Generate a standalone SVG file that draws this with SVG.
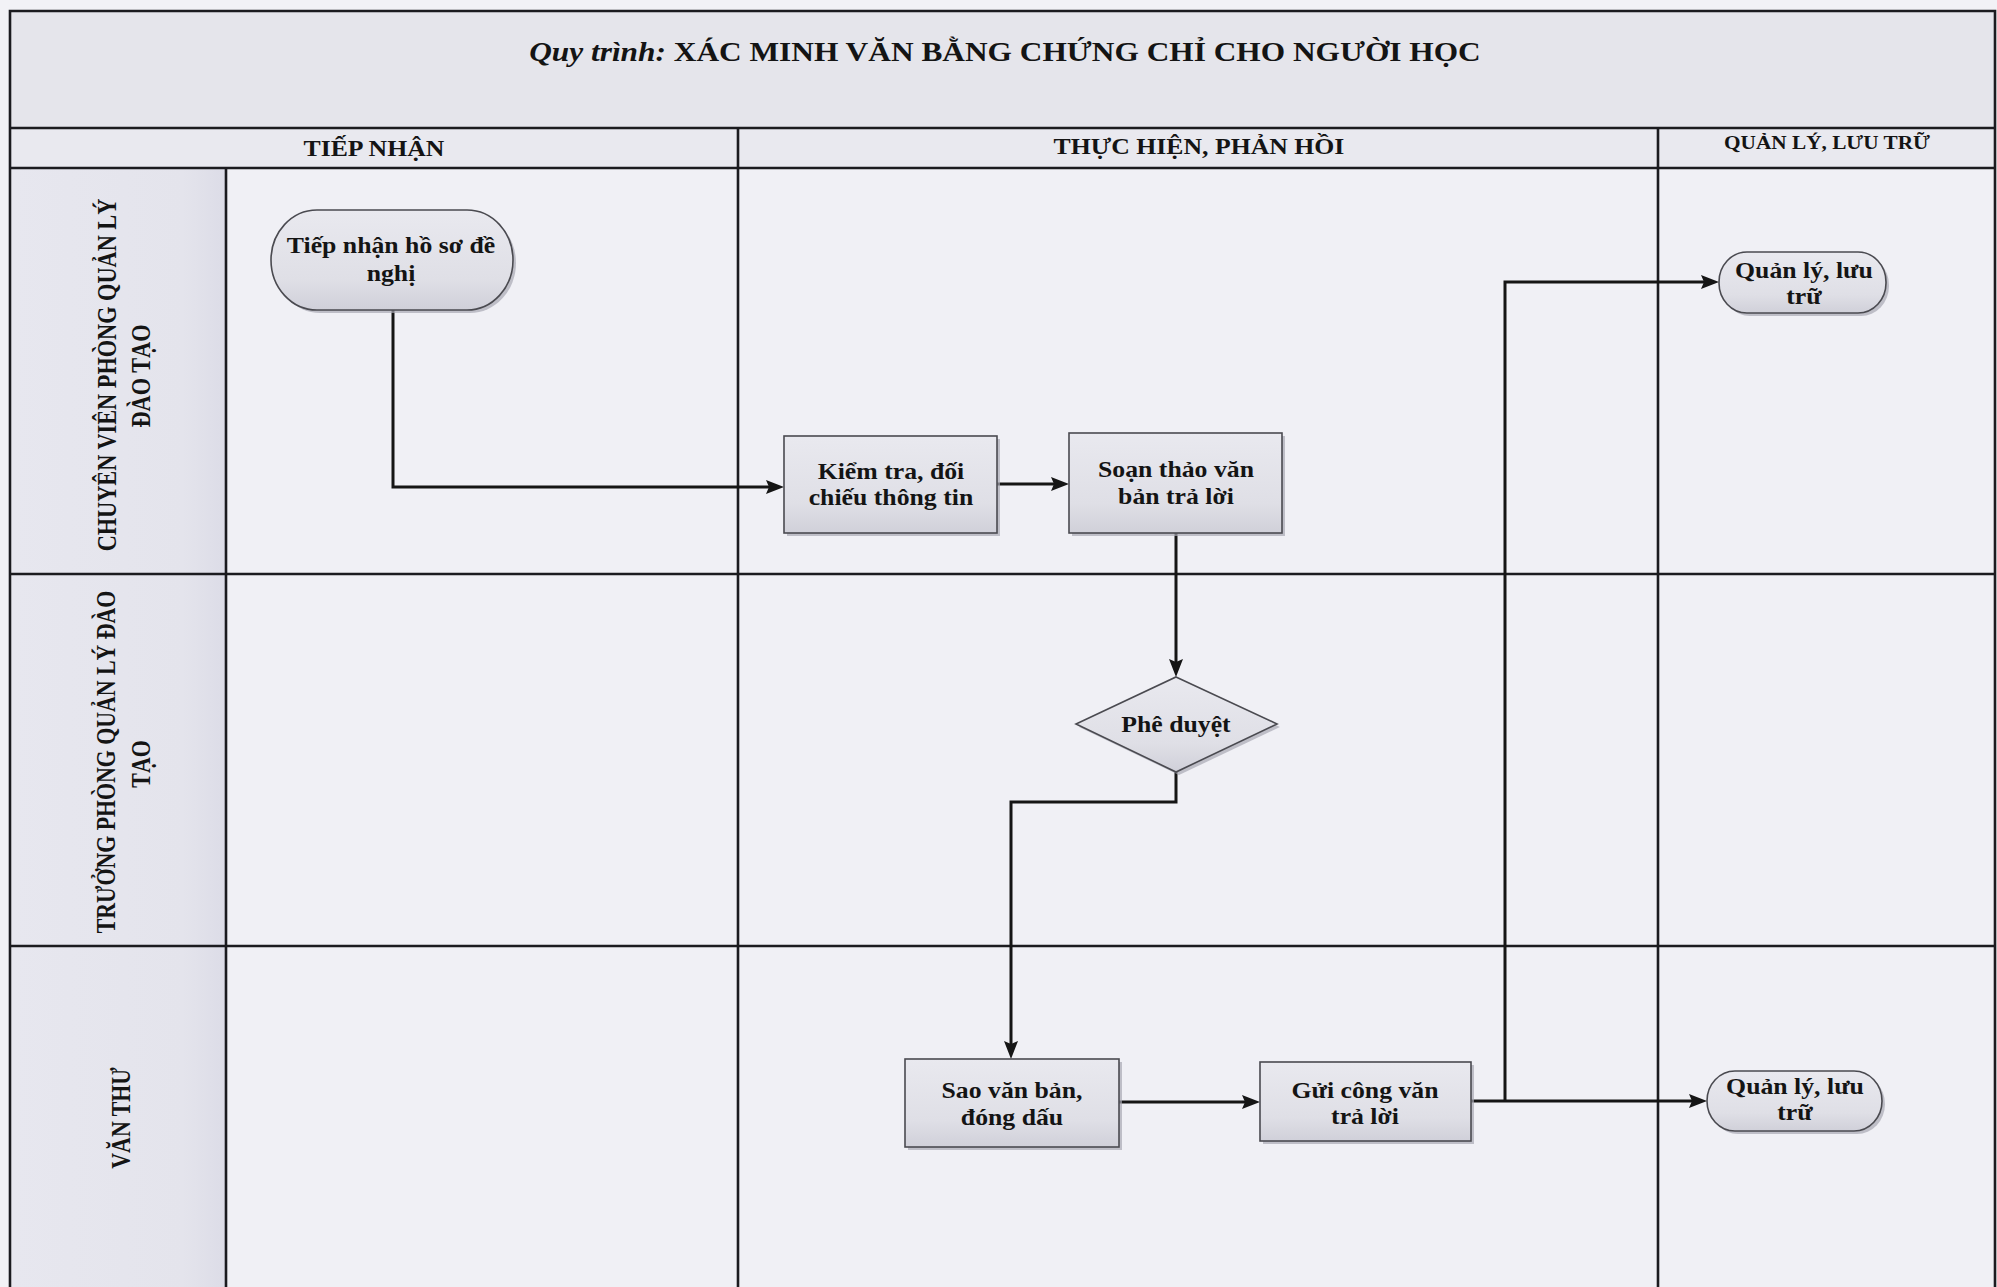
<svg xmlns="http://www.w3.org/2000/svg" width="1997" height="1287" viewBox="0 0 1997 1287">
  <style>
    .frame{fill:none;stroke:#1b1b1f;stroke-width:2.6}
    .node{stroke:#4a4a50;stroke-width:1.6;fill:url(#nodeFill)}
    .shadow{fill:#a8a8b4;opacity:0.7}
    .conn{fill:none;stroke:#151515;stroke-width:3;stroke-linejoin:miter}
    .t{font-family:"Liberation Serif","Times New Roman",serif;font-weight:bold;fill:#141414;text-anchor:middle}
    .node-t{font-size:23px}
    .hdr{font-size:23px}
    .hdr-s{font-size:19px}
    .lane-t{font-size:23px}
    .title{font-size:28px}
  </style>
  <defs>
    <linearGradient id="nodeFill" x1="0" y1="0" x2="0" y2="1">
      <stop offset="0" stop-color="#e9e9ef"/>
      <stop offset="0.7" stop-color="#dfdfe6"/>
      <stop offset="1" stop-color="#d0d0d9"/>
    </linearGradient>
    <linearGradient id="laneFill" x1="0" y1="0" x2="1" y2="0">
      <stop offset="0" stop-color="#e7e7ef"/>
      <stop offset="0.8" stop-color="#e4e4ec"/>
      <stop offset="1" stop-color="#dcdce7"/>
    </linearGradient>
    <marker id="arrow" markerUnits="userSpaceOnUse" markerWidth="20" markerHeight="14" refX="8" refY="7" orient="auto">
      <path d="M0,0 L18,7 L0,14 L3,7 z" fill="#151515"/>
    </marker>
  </defs>

  <!-- page background -->
  <rect x="0" y="0" width="1997" height="1287" fill="#f2f2f6"/>

  <g id="frame">
    <rect x="10" y="11" width="1985" height="116" fill="#e5e5eb"/>
    <rect x="10" y="127" width="1985" height="40" fill="#e9e9ef"/>
    <rect x="10" y="167" width="1985" height="1125" fill="#f0f0f5"/>
    <rect x="12" y="167" width="214" height="1125" fill="url(#laneFill)"/>

    <path class="frame" d="M10,1290 L10,11 L1995,11 L1995,1290"/>
    <line class="frame" x1="10" y1="128" x2="1995" y2="128"/>
    <line class="frame" x1="10" y1="168" x2="1995" y2="168"/>
    <line class="frame" x1="738" y1="128" x2="738" y2="1290"/>
    <line class="frame" x1="1658" y1="128" x2="1658" y2="1290"/>
    <line class="frame" x1="226" y1="168" x2="226" y2="1290"/>
    <line class="frame" x1="10" y1="574" x2="1995" y2="574"/>
    <line class="frame" x1="10" y1="946" x2="1995" y2="946"/>
  </g>

  <g id="title">
    <text class="t title" x="897.3" y="61" transform="scale(1.12,1)"><tspan font-style="italic">Quy trình:</tspan> XÁC MINH VĂN BẰNG CHỨNG CHỈ CHO NGƯỜI HỌC</text>
  </g>

  <g id="column-headers">
    <text class="t hdr" x="333.9" y="156" transform="scale(1.12,1)">TIẾP NHẬN</text>
    <text class="t hdr" x="1070.5" y="154" transform="scale(1.12,1)">THỰC HIỆN, PHẢN HỒI</text>
    <text class="t hdr-s" x="1631.3" y="149" transform="scale(1.12,1)">QUẢN LÝ, LƯU TRỮ</text>
  </g>

  <g id="lane-labels">
    <g id="lane-1">
      <text class="t lane-t" transform="translate(116,375) rotate(-90) scale(0.97,1.15)">CHUYÊN VIÊN PHÒNG QUẢN LÝ</text>
      <text class="t lane-t" transform="translate(150,376) rotate(-90) scale(0.97,1.15)">ĐÀO TẠO</text>
    </g>
    <g id="lane-2">
      <text class="t lane-t" transform="translate(115,762) rotate(-90) scale(0.95,1.15)">TRƯỞNG PHÒNG QUẢN LÝ ĐÀO</text>
      <text class="t lane-t" transform="translate(150,764) rotate(-90) scale(0.95,1.15)">TẠO</text>
    </g>
    <g id="lane-3">
      <text class="t lane-t" transform="translate(130,1118) rotate(-90) scale(0.95,1.15)">VĂN THƯ</text>
    </g>
  </g>

  <g id="connectors">
    <path class="conn" marker-end="url(#arrow)" d="M393,310 L393,487 L774,487"/>
    <path class="conn" marker-end="url(#arrow)" d="M997,484 L1059,484"/>
    <path class="conn" marker-end="url(#arrow)" d="M1176,533 L1176,667"/>
    <path class="conn" marker-end="url(#arrow)" d="M1176,772 L1176,802 L1011,802 L1011,1049"/>
    <path class="conn" marker-end="url(#arrow)" d="M1119,1102 L1250,1102"/>
    <path class="conn" marker-end="url(#arrow)" d="M1471,1101 L1697,1101"/>
    <path class="conn" marker-end="url(#arrow)" d="M1505,1101 L1505,282 L1709,282"/>
  </g>

  <g id="node-tiep-nhan">
    <rect class="shadow" x="274" y="213" width="242" height="100" rx="46" ry="50"/>
    <rect class="node" x="271" y="210" width="242" height="100" rx="46" ry="50"/>
    <text class="t node-t" transform="scale(1.12,1)"><tspan x="349.1" y="253">Tiếp nhận hồ sơ đề</tspan><tspan x="349.1" y="281">nghị</tspan></text>
  </g>

  <g id="node-kiem-tra">
    <rect class="shadow" x="787" y="439" width="213" height="97"/>
    <rect class="node" x="784" y="436" width="213" height="97"/>
    <text class="t node-t" transform="scale(1.12,1)"><tspan x="795.5" y="479">Kiểm tra, đối</tspan><tspan x="795.5" y="505">chiếu thông tin</tspan></text>
  </g>

  <g id="node-soan-thao">
    <rect class="shadow" x="1072" y="436" width="213" height="100"/>
    <rect class="node" x="1069" y="433" width="213" height="100"/>
    <text class="t node-t" transform="scale(1.12,1)"><tspan x="1050" y="477">Soạn thảo văn</tspan><tspan x="1050" y="504">bản trả lời</tspan></text>
  </g>

  <g id="node-phe-duyet">
    <polygon class="shadow" points="1179,680 1280,727 1179,775 1079,727"/>
    <polygon class="node" points="1176,677 1277,724 1176,772 1076,724"/>
    <text class="t node-t" x="1050" y="732" transform="scale(1.12,1)">Phê duyệt</text>
  </g>

  <g id="node-sao-van-ban">
    <rect class="shadow" x="908" y="1062" width="214" height="88"/>
    <rect class="node" x="905" y="1059" width="214" height="88"/>
    <text class="t node-t" transform="scale(1.12,1)"><tspan x="903.6" y="1098">Sao văn bản,</tspan><tspan x="903.6" y="1125">đóng dấu</tspan></text>
  </g>

  <g id="node-gui-cong-van">
    <rect class="shadow" x="1263" y="1065" width="211" height="79"/>
    <rect class="node" x="1260" y="1062" width="211" height="79"/>
    <text class="t node-t" transform="scale(1.12,1)"><tspan x="1218.75" y="1098">Gửi công văn</tspan><tspan x="1218.75" y="1124">trả lời</tspan></text>
  </g>

  <g id="node-quan-ly-1">
    <rect class="shadow" x="1722" y="255" width="167" height="61" rx="28" ry="30"/>
    <rect class="node" x="1719" y="252" width="167" height="61" rx="28" ry="30"/>
    <text class="t node-t" transform="scale(1.12,1)"><tspan x="1610.7" y="278">Quản lý, lưu</tspan><tspan x="1610.7" y="304">trữ</tspan></text>
  </g>

  <g id="node-quan-ly-2">
    <rect class="shadow" x="1710" y="1074" width="175" height="60" rx="28" ry="30"/>
    <rect class="node" x="1707" y="1071" width="175" height="60" rx="28" ry="30"/>
    <text class="t node-t" transform="scale(1.12,1)"><tspan x="1602.7" y="1094">Quản lý, lưu</tspan><tspan x="1602.7" y="1120">trữ</tspan></text>
  </g>
</svg>
